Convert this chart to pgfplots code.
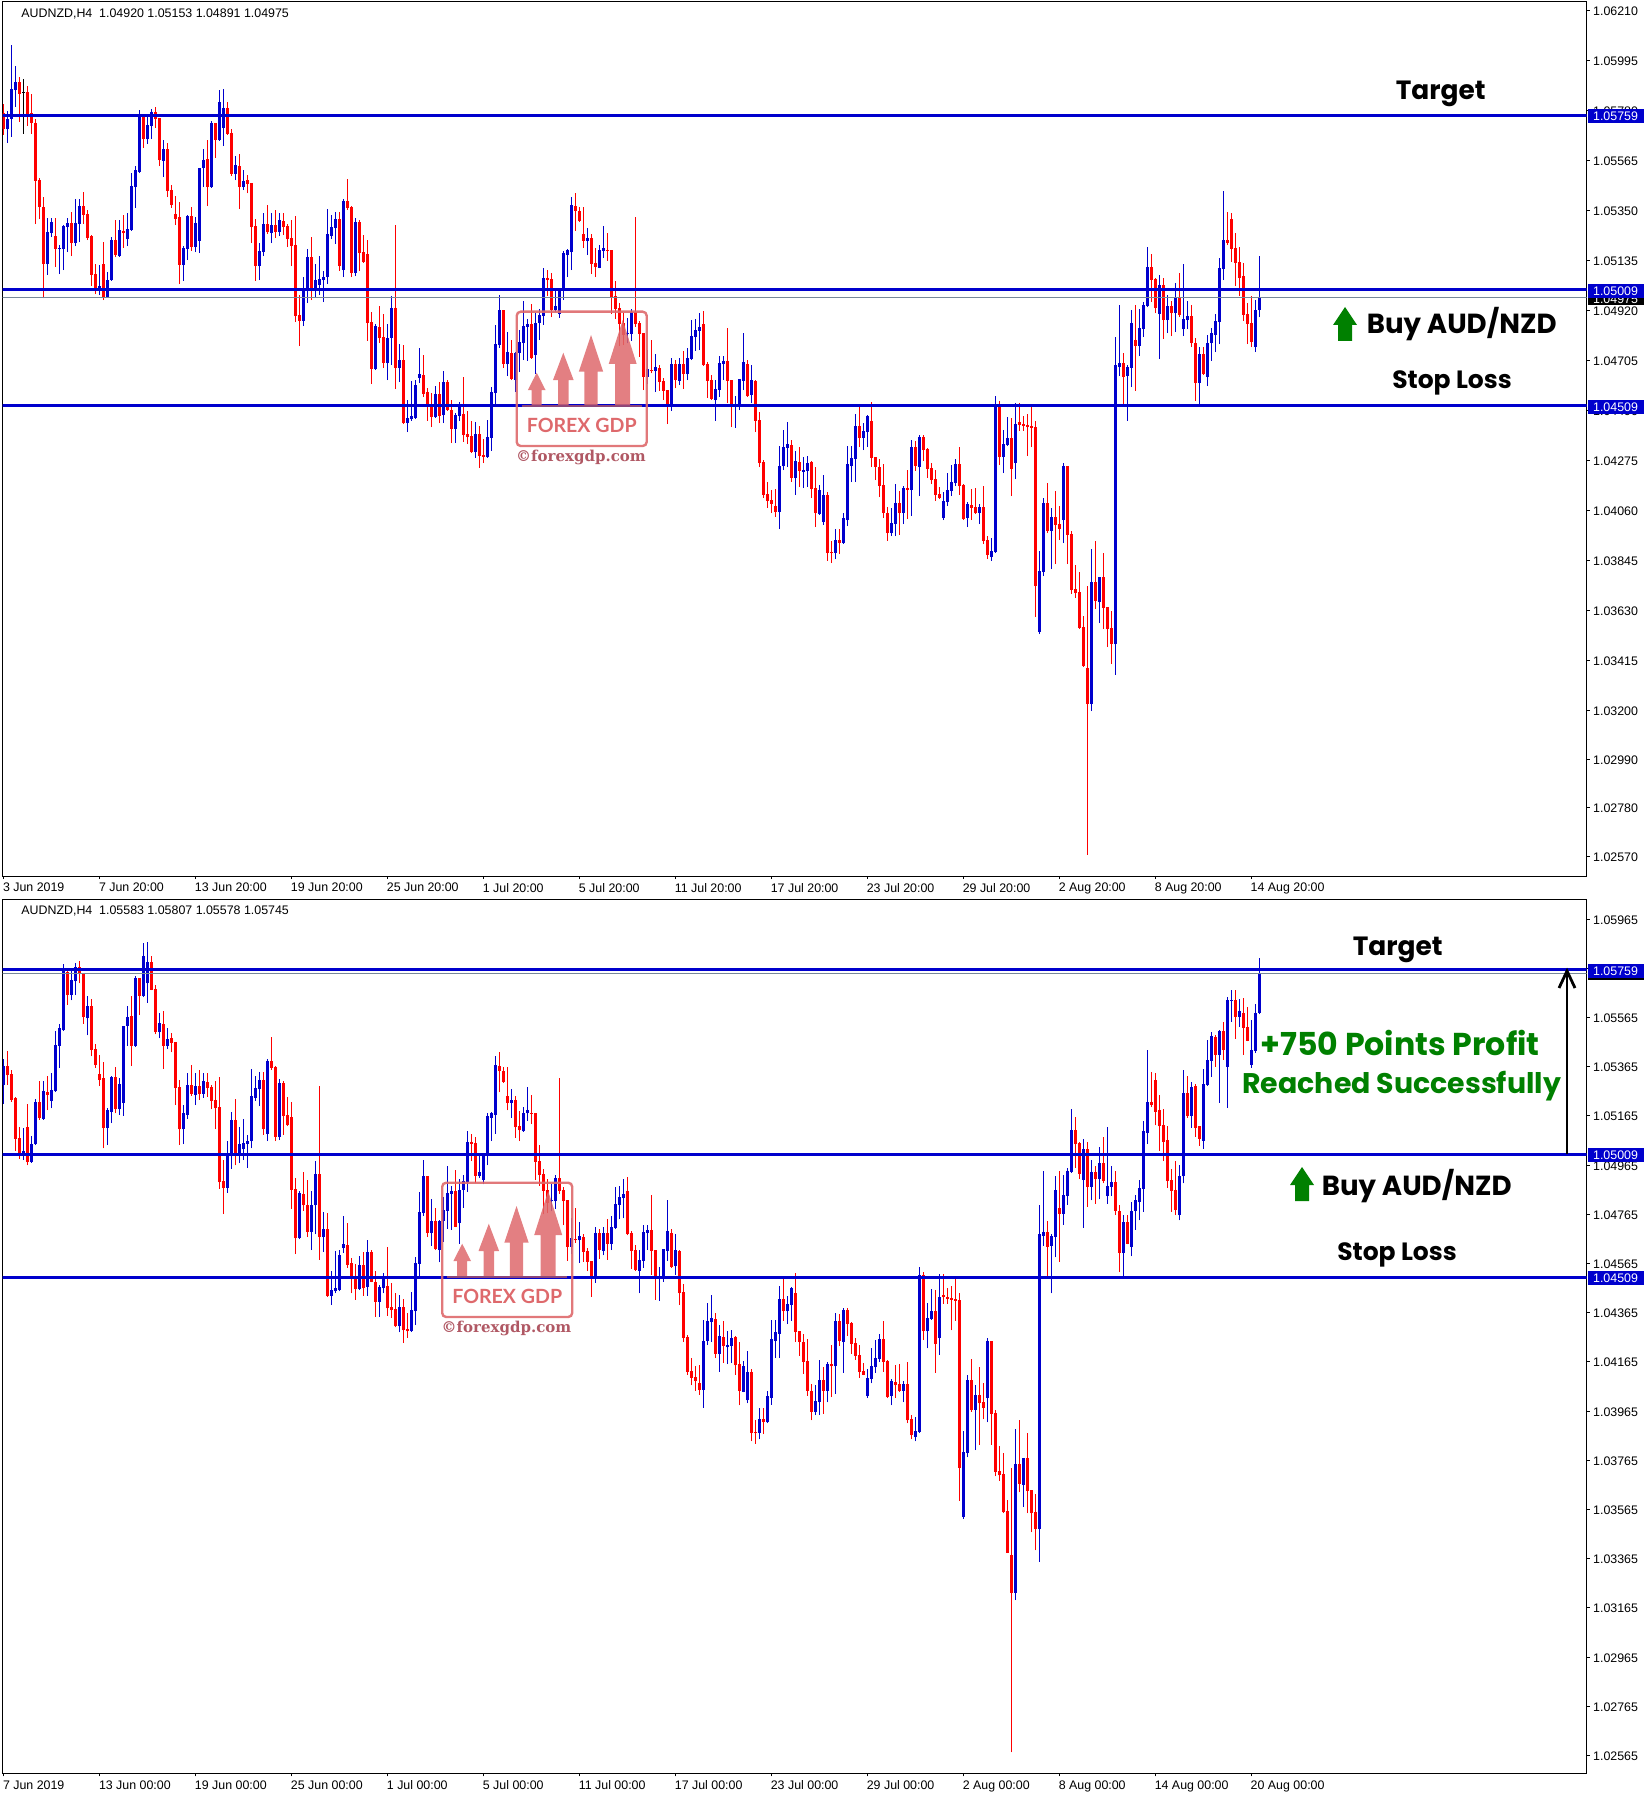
\documentclass[border=0pt]{standalone}
\usepackage{pgfplots}
\usepackage{pgfplotstable}
\pgfplotsset{compat=1.18}
\usepackage{fontspec}
\setmainfont{Liberation Sans}
\newfontfamily\annot{Poppins}[BoldFont=* Bold]
\newfontfamily\wmfont{Lato}
\newfontfamily\wmserif{DejaVu Serif}
\definecolor{cblue}{RGB}{0,0,205}
\definecolor{cred}{RGB}{255,0,0}
\definecolor{cgray}{RGB}{119,136,153}
\definecolor{cgreen}{RGB}{0,128,0}
\definecolor{wmc}{RGB}{222,105,108}
\definecolor{wmt}{RGB}{176,88,100}

\pgfplotstableread{
x l b t h
1 1.05641 1.05699 1.05742 1.05777
2 1.05666 1.05742 1.05871 1.06060
3 1.05795 1.05867 1.05901 1.05970
11 1.05072 1.05119 1.05256 1.05315
12 1.05235 1.05252 1.05299 1.05315
14 1.05076 1.05183 1.05188 1.05201
15 1.05093 1.05183 1.05282 1.05286
16 1.05170 1.05278 1.05295 1.05315
18 1.05196 1.05209 1.05295 1.05398
19 1.05213 1.05291 1.05368 1.05398
24 1.04985 1.05007 1.05024 1.05115
26 1.04974 1.04977 1.05050 1.05084
27 1.05046 1.05050 1.05222 1.05235
29 1.05150 1.05153 1.05265 1.05308
31 1.05196 1.05226 1.05269 1.05338
32 1.05262 1.05265 1.05454 1.05510
33 1.05360 1.05450 1.05523 1.05540
34 1.05510 1.05514 1.05758 1.05781
36 1.05635 1.05656 1.05717 1.05759
37 1.05656 1.05712 1.05772 1.05785
40 1.05493 1.05562 1.05613 1.05652
45 1.05046 1.05115 1.05188 1.05196
46 1.05136 1.05183 1.05325 1.05329
48 1.05170 1.05192 1.05295 1.05321
49 1.05166 1.05218 1.05532 1.05532
50 1.05450 1.05532 1.05566 1.05613
52 1.05447 1.05450 1.05725 1.05734
54 1.05648 1.05652 1.05815 1.05867
55 1.05626 1.05704 1.05790 1.05871
58 1.05480 1.05506 1.05544 1.05583
60 1.05437 1.05450 1.05476 1.05523
64 1.05050 1.05110 1.05175 1.05209
65 1.05153 1.05170 1.05291 1.05338
67 1.05209 1.05252 1.05286 1.05338
69 1.05239 1.05256 1.05308 1.05338
75 1.04852 1.04874 1.05007 1.05063
76 1.04951 1.05007 1.05149 1.05183
78 1.04973 1.05007 1.05050 1.05119
79 1.04985 1.05029 1.05054 1.05153
80 1.04955 1.05050 1.05063 1.05089
81 1.05033 1.05063 1.05248 1.05355
82 1.05226 1.05239 1.05278 1.05329
83 1.05205 1.05274 1.05312 1.05342
85 1.05063 1.05093 1.05390 1.05398
88 1.05067 1.05080 1.05299 1.05317
93 1.04663 1.04667 1.04852 1.04861
96 1.04620 1.04693 1.04801 1.04861
97 1.04684 1.04801 1.04930 1.04981
99 1.04611 1.04672 1.04706 1.04775
101 1.04396 1.04435 1.04457 1.04534
102 1.04444 1.04452 1.04465 1.04616
103 1.04452 1.04457 1.04598 1.04620
104 1.04607 1.04629 1.04646 1.04758
108 1.04457 1.04461 1.04560 1.04594
110 1.04435 1.04470 1.04611 1.04659
113 1.04349 1.04409 1.04470 1.04478
114 1.04444 1.04465 1.04504 1.04525
118 1.04285 1.04310 1.04388 1.04439
121 1.04286 1.04289 1.04375 1.04448
122 1.04315 1.04371 1.04568 1.04590
123 1.04508 1.04564 1.04775 1.04856
124 1.04758 1.04770 1.04921 1.04985
126 1.04637 1.04689 1.04740 1.04826
128 1.04570 1.04620 1.04736 1.04740
129 1.04654 1.04736 1.04783 1.04835
130 1.04706 1.04779 1.04852 1.04960
131 1.04702 1.04848 1.04861 1.04882
133 1.04646 1.04728 1.04865 1.04907
134 1.04792 1.04865 1.04899 1.04925
135 1.04857 1.04895 1.05059 1.05102
138 1.04912 1.04921 1.04938 1.05007
139 1.04887 1.04904 1.05007 1.05007
140 1.04964 1.05006 1.05166 1.05175
141 1.05063 1.05157 1.05179 1.05183
142 1.05093 1.05170 1.05372 1.05407
146 1.05157 1.05218 1.05231 1.05274
149 1.05100 1.05102 1.05179 1.05200
150 1.05145 1.05175 1.05188 1.05282
156 1.04778 1.04818 1.04822 1.04887
157 1.04788 1.04818 1.04912 1.04925
161 1.04603 1.04633 1.04667 1.04749
163 1.04568 1.04659 1.04676 1.04732
167 1.04487 1.04508 1.04689 1.04715
169 1.04598 1.04616 1.04689 1.04715
171 1.04620 1.04646 1.04715 1.04758
172 1.04706 1.04710 1.04809 1.04878
173 1.04745 1.04805 1.04835 1.04882
174 1.04749 1.04831 1.04848 1.04908
178 1.04444 1.04534 1.04581 1.04620
179 1.04548 1.04577 1.04693 1.04723
180 1.04620 1.04689 1.04702 1.04723
183 1.04414 1.04505 1.04511 1.04551
184 1.04491 1.04508 1.04624 1.04624
185 1.04577 1.04616 1.04697 1.04822
187 1.04520 1.04555 1.04620 1.04684
194 1.03979 1.04052 1.04250 1.04336
195 1.04233 1.04250 1.04332 1.04405
196 1.04246 1.04328 1.04345 1.04439
198 1.04126 1.04199 1.04272 1.04315
200 1.04156 1.04224 1.04233 1.04289
201 1.04160 1.04229 1.04263 1.04293
204 1.04041 1.04044 1.04147 1.04168
205 1.03997 1.04009 1.04126 1.04211
208 1.03850 1.03876 1.03932 1.03979
210 1.03916 1.03919 1.04027 1.04048
211 1.03992 1.04018 1.04259 1.04336
212 1.04181 1.04250 1.04285 1.04336
213 1.04181 1.04280 1.04422 1.04474
215 1.04319 1.04371 1.04401 1.04435
216 1.04332 1.04396 1.04465 1.04469
222 1.03949 1.03962 1.04005 1.04070
223 1.03949 1.04001 1.04091 1.04173
225 1.04001 1.04048 1.04156 1.04164
227 1.04035 1.04147 1.04332 1.04362
229 1.04121 1.04246 1.04375 1.04383
235 1.04018 1.04027 1.04100 1.04138
236 1.04078 1.04095 1.04147 1.04220
237 1.04121 1.04143 1.04181 1.04254
238 1.04164 1.04177 1.04259 1.04280
241 1.03988 1.04027 1.04087 1.04095
244 1.04001 1.04048 1.04074 1.04087
247 1.03842 1.03859 1.03885 1.03941
248 1.03877 1.03880 1.04517 1.04551
250 1.04220 1.04289 1.04345 1.04405
251 1.04336 1.04340 1.04371 1.04461
253 1.04194 1.04263 1.04431 1.04521
259 1.03528 1.03536 1.03799 1.03885
260 1.03777 1.03794 1.04091 1.04113
262 1.03807 1.03971 1.04031 1.04070
265 1.03919 1.04018 1.04250 1.04263
272 1.03197 1.03227 1.03751 1.03893
274 1.03575 1.03665 1.03773 1.03773
278 1.03352 1.03485 1.04685 1.04805
279 1.04637 1.04676 1.04693 1.04942
281 1.04444 1.04637 1.04676 1.04685
282 1.04590 1.04672 1.04865 1.04921
284 1.04723 1.04766 1.04844 1.04925
285 1.04805 1.04839 1.04942 1.04955
286 1.04934 1.04938 1.05106 1.05192
289 1.04710 1.04904 1.05029 1.05071
291 1.04822 1.04878 1.04938 1.04985
293 1.04826 1.04908 1.04973 1.05037
295 1.04809 1.04839 1.04882 1.05119
296 1.04839 1.04878 1.04895 1.04960
299 1.04508 1.04607 1.04732 1.04762
301 1.04594 1.04633 1.04779 1.04814
302 1.04702 1.04779 1.04822 1.04844
303 1.04740 1.04814 1.04874 1.04904
304 1.04775 1.04869 1.05102 1.05145
305 1.05050 1.05097 1.05222 1.05433
313 1.04740 1.04762 1.04921 1.04964
}\upA

\pgfplotstableread{
x l b t h
0 1.05674 1.05698 1.05767 1.05807
4 1.05731 1.05850 1.05901 1.05921
6 1.05712 1.05755 1.05858 1.05884
7 1.05678 1.05725 1.05767 1.05850
8 1.05291 1.05476 1.05725 1.05742
9 1.05312 1.05364 1.05480 1.05487
10 1.04971 1.05119 1.05364 1.05407
13 1.05106 1.05183 1.05239 1.05315
17 1.05153 1.05209 1.05295 1.05342
20 1.05291 1.05330 1.05368 1.05428
21 1.05222 1.05231 1.05334 1.05351
22 1.05024 1.05072 1.05239 1.05243
23 1.04990 1.05007 1.05076 1.05119
25 1.04964 1.04977 1.05119 1.05213
28 1.05149 1.05158 1.05222 1.05308
30 1.05188 1.05252 1.05261 1.05329
35 1.05618 1.05656 1.05751 1.05759
38 1.05704 1.05742 1.05772 1.05794
39 1.05540 1.05566 1.05747 1.05747
41 1.05407 1.05433 1.05613 1.05639
42 1.05360 1.05372 1.05437 1.05459
43 1.05286 1.05312 1.05334 1.05411
44 1.05033 1.05115 1.05321 1.05385
47 1.05175 1.05192 1.05325 1.05364
51 1.05368 1.05450 1.05570 1.05652
53 1.05575 1.05652 1.05725 1.05725
56 1.05675 1.05678 1.05790 1.05815
57 1.05497 1.05506 1.05682 1.05699
59 1.05355 1.05450 1.05540 1.05592
61 1.05423 1.05463 1.05480 1.05501
62 1.05209 1.05278 1.05467 1.05467
63 1.05046 1.05110 1.05282 1.05312
66 1.05248 1.05256 1.05291 1.05372
68 1.05231 1.05256 1.05286 1.05351
70 1.05243 1.05278 1.05304 1.05338
71 1.05192 1.05226 1.05282 1.05291
72 1.05110 1.05196 1.05231 1.05308
73 1.04869 1.04895 1.05200 1.05325
74 1.04766 1.04874 1.04899 1.04985
77 1.04964 1.05007 1.05149 1.05235
84 1.05089 1.05110 1.05312 1.05342
86 1.05351 1.05360 1.05390 1.05484
87 1.05063 1.05080 1.05364 1.05368
89 1.05089 1.05166 1.05299 1.05308
90 1.05124 1.05127 1.05170 1.05243
91 1.04788 1.04865 1.05162 1.05222
92 1.04603 1.04667 1.04869 1.04912
94 1.04779 1.04801 1.04848 1.04938
95 1.04672 1.04693 1.04805 1.04904
98 1.04581 1.04672 1.04930 1.05287
100 1.04431 1.04435 1.04706 1.04770
105 1.04547 1.04560 1.04642 1.04728
106 1.04444 1.04504 1.04568 1.04586
107 1.04418 1.04461 1.04508 1.04564
109 1.04435 1.04465 1.04560 1.04611
111 1.04488 1.04491 1.04611 1.04620
112 1.04349 1.04409 1.04491 1.04534
115 1.04353 1.04383 1.04474 1.04633
116 1.04345 1.04375 1.04388 1.04487
117 1.04306 1.04310 1.04379 1.04444
119 1.04242 1.04293 1.04388 1.04422
120 1.04263 1.04289 1.04297 1.04366
125 1.04672 1.04689 1.04921 1.04921
127 1.04620 1.04624 1.04736 1.04792
132 1.04712 1.04715 1.04861 1.04947
136 1.04981 1.05050 1.05059 1.05093
137 1.04891 1.04921 1.05054 1.05080
143 1.05261 1.05347 1.05368 1.05424
144 1.05299 1.05304 1.05347 1.05364
145 1.05188 1.05218 1.05248 1.05364
147 1.05076 1.05119 1.05231 1.05248
148 1.05063 1.05106 1.05123 1.05186
151 1.05132 1.05175 1.05179 1.05251
152 1.04904 1.04977 1.05179 1.05179
153 1.04882 1.04925 1.04981 1.05046
154 1.04766 1.04861 1.04930 1.04950
155 1.04770 1.04813 1.04865 1.04907
158 1.04849 1.04861 1.04912 1.05321
159 1.04720 1.04818 1.04865 1.04875
160 1.04577 1.04633 1.04822 1.04822
162 1.04649 1.04659 1.04663 1.04792
164 1.04573 1.04611 1.04672 1.04684
165 1.04534 1.04573 1.04616 1.04627
166 1.04431 1.04508 1.04577 1.04577
168 1.04584 1.04620 1.04689 1.04706
170 1.04581 1.04646 1.04689 1.04745
175 1.04680 1.04684 1.04861 1.04917
176 1.04543 1.04616 1.04689 1.04697
177 1.04534 1.04538 1.04620 1.04642
181 1.04520 1.04616 1.04702 1.04844
182 1.04418 1.04508 1.04620 1.04620
186 1.04548 1.04551 1.04689 1.04706
188 1.04396 1.04444 1.04616 1.04620
189 1.04246 1.04263 1.04448 1.04482
190 1.04113 1.04126 1.04267 1.04276
191 1.04070 1.04100 1.04130 1.04181
192 1.04048 1.04087 1.04104 1.04147
193 1.04031 1.04052 1.04078 1.04151
197 1.04181 1.04199 1.04340 1.04362
199 1.04160 1.04229 1.04267 1.04332
202 1.04113 1.04151 1.04267 1.04272
203 1.03988 1.04048 1.04156 1.04246
206 1.03842 1.03876 1.04126 1.04138
207 1.03833 1.03876 1.03880 1.03928
209 1.03872 1.03919 1.03932 1.03979
214 1.04332 1.04371 1.04422 1.04505
217 1.04246 1.04285 1.04444 1.04525
218 1.04190 1.04246 1.04289 1.04289
219 1.04117 1.04164 1.04246 1.04280
220 1.04027 1.04048 1.04168 1.04259
221 1.03928 1.03962 1.04048 1.04074
224 1.03954 1.04048 1.04091 1.04143
226 1.04022 1.04147 1.04156 1.04233
228 1.04229 1.04250 1.04332 1.04358
230 1.04272 1.04319 1.04375 1.04383
231 1.04199 1.04237 1.04323 1.04328
232 1.04173 1.04190 1.04242 1.04263
233 1.04100 1.04126 1.04194 1.04233
234 1.04110 1.04113 1.04130 1.04160
239 1.04126 1.04164 1.04259 1.04332
240 1.04018 1.04022 1.04168 1.04173
242 1.04018 1.04070 1.04082 1.04151
243 1.04044 1.04048 1.04074 1.04156
245 1.03915 1.03928 1.04074 1.04164
246 1.03850 1.03867 1.03932 1.03949
249 1.04254 1.04289 1.04517 1.04530
252 1.04121 1.04237 1.04371 1.04457
254 1.04401 1.04427 1.04439 1.04521
255 1.04401 1.04422 1.04431 1.04465
256 1.04293 1.04418 1.04427 1.04474
257 1.04332 1.04414 1.04422 1.04505
258 1.03601 1.03734 1.04418 1.04444
261 1.03962 1.03971 1.04091 1.04177
263 1.03829 1.03997 1.04031 1.04143
264 1.03932 1.03979 1.04001 1.04078
266 1.03829 1.03954 1.04250 1.04250
267 1.03700 1.03717 1.03958 1.03971
268 1.03683 1.03704 1.03721 1.03825
269 1.03549 1.03554 1.03708 1.03794
270 1.03388 1.03390 1.03558 1.03605
271 1.02578 1.03227 1.03382 1.03734
273 1.03635 1.03670 1.03751 1.03928
275 1.03549 1.03640 1.03773 1.03876
276 1.03472 1.03549 1.03644 1.03644
277 1.03399 1.03485 1.03554 1.03627
280 1.04513 1.04633 1.04693 1.04736
283 1.04573 1.04766 1.04792 1.04942
287 1.04955 1.05050 1.05106 1.05162
288 1.04908 1.04930 1.05054 1.05059
290 1.04796 1.04878 1.05029 1.05059
292 1.04809 1.04908 1.04938 1.04960
294 1.04891 1.04900 1.04973 1.05080
297 1.04762 1.04779 1.04895 1.04942
298 1.04530 1.04607 1.04779 1.04801
300 1.04643 1.04646 1.04732 1.04762
306 1.05200 1.05209 1.05222 1.05342
307 1.05127 1.05183 1.05312 1.05338
308 1.05024 1.05123 1.05188 1.05252
309 1.04981 1.05059 1.05127 1.05192
310 1.04874 1.04900 1.05067 1.05123
311 1.04775 1.04861 1.04904 1.04951
312 1.04762 1.04783 1.04865 1.04981
}\downA

\pgfplotstableread{
x l b t h
5 1.05678 1.05856 1.05858 1.05913
}\dojiTop

\pgfplotstableread{
x l b t h
314 1.04891 1.04920 1.04975 1.05153
}\lastTop

\pgfplotstableread{
x l b t h
314 1.04891 1.04919 1.05257 1.05352
316 1.05116 1.05165 1.05283 1.05303
319 1.05031 1.05064 1.05295 1.05356
320 1.05287 1.05291 1.05393 1.05474
321 1.05324 1.05389 1.05490 1.05507
323 1.05218 1.05413 1.05511 1.05515
325 1.05198 1.05364 1.05637 1.05649
326 1.05547 1.05633 1.05637 1.05677
328 1.05527 1.05568 1.05592 1.05641
331 1.05360 1.05373 1.05434 1.05555
332 1.05420 1.05429 1.05584 1.05620
333 1.05578 1.05583 1.05745 1.05807
}\upB

\pgfplotstableread{
x l b t h
315 1.05157 1.05165 1.05259 1.05328
317 1.05080 1.05116 1.05287 1.05295
318 1.05043 1.05072 1.05125 1.05125
322 1.05364 1.05413 1.05486 1.05494
324 1.05393 1.05434 1.05511 1.05547
327 1.05478 1.05568 1.05637 1.05677
329 1.05413 1.05523 1.05584 1.05645
330 1.05468 1.05470 1.05527 1.05608
}\downB

\newcommand{\Candles}[3]{%
\addplot[draw=none,forget plot,error bars/.cd,y dir=plus,y explicit,error mark=none,
  error bar style={draw=#2,solid,line width=0.5pt}]
  table[x expr=\thisrow{x}-#3,y=l,y error plus expr=\thisrow{h}-\thisrow{l}] {#1};
\addplot[draw=none,forget plot,error bars/.cd,y dir=plus,y explicit,error mark=none,
  error bar style={draw=#2,solid,line width=1.5pt}]
  table[x expr=\thisrow{x}-#3,y=b,y error plus expr=\thisrow{t}-\thisrow{b}] {#1};
}
\newcommand{\Level}[3]{%
\addplot[forget plot,#2,line width=#3] coordinates {(-5,#1) (400,#1)};
}
\pgfplotsset{mt/.style={
  scale only axis, width=792pt, height=437pt,
  xmin=-0.2575, xmax=395.84,
  axis line style={black,line width=0.5pt},
  tick style={black,line width=0.5pt},
  tick align=outside, major tick length=1.5pt,
  xtick pos=bottom, ytick pos=right, yticklabel pos=right,
  xtick={0,24,...,312},
  x tick label style={font=\fontsize{6.2}{7}\selectfont,anchor=north west,inner xsep=0pt,inner ysep=0pt,xshift=-0.5pt,yshift=-1.9pt},
  y tick label style={font=\fontsize{6.2}{7}\selectfont,anchor=west,inner xsep=0pt,inner ysep=0pt,xshift=1.6pt,yshift=-0.35pt},
  scaled y ticks=false,
}}

\newcommand{\LabelBox}[4]{% y px, fill, text
\fill[#2] (1588,#1-7) rectangle (1644,#1+7);
\node[anchor=west,inner sep=0pt,text=white,font=\fontsize{6.2}{7}\selectfont] at (1592.7,#1+0.6) {#3};
}
\newcommand{\GreenUp}[3]{% x, tip y, bottom y
\fill[cgreen] (#1,#2) -- (#1+12,#2+18) -- (#1+7,#2+18) -- (#1+7,#3) -- (#1-7,#3) -- (#1-7,#2+18) -- (#1-12,#2+18) -- cycle;
}
\newcommand{\Watermark}[2]{%
\begin{scope}[shift={(#1,#2)}]
\draw[wmc,line width=1.2pt,rounded corners=2pt,opacity=.9] (516.7,311.7) rectangle (646.7,446);
\begin{scope}[opacity=.85]
\fill[wmc] (536.7,372.7) -- (545.5,390) -- (541.7,390) -- (541.7,405) -- (531.7,405) -- (531.7,390) -- (527.9,390) -- cycle;
\fill[wmc] (563.3,352.7) -- (573.6,380) -- (568.6,380) -- (568.6,405) -- (558,405) -- (558,380) -- (553,380) -- cycle;
\fill[wmc] (591,335) -- (603.2,371.7) -- (597.7,371.7) -- (597.7,405) -- (584.3,405) -- (584.3,371.7) -- (578.8,371.7) -- cycle;
\fill[wmc] (622.7,320) -- (636.7,364) -- (630.2,364) -- (630.2,405) -- (615.2,405) -- (615.2,364) -- (608.7,364) -- cycle;
\end{scope}
\draw[wmt,line width=1pt,opacity=.8] (521.7,406.3) -- (641.7,406.3);
\node[text=wmc,font=\wmfont\bfseries\fontsize{9.8}{11}\selectfont] at (581.7,425) {FOREX GDP};
\node[text=wmt,font=\wmserif\bfseries\fontsize{7.5}{8}\selectfont] at (581,457.5) {©forexgdp.com};
\end{scope}
}

\begin{document}
\begin{tikzpicture}
\useasboundingbox (0,0) rectangle (825pt,-898.5pt);

\begin{axis}[mt, at={(1.3pt,-438pt)}, anchor=south west,
  ymin=1.024875, ymax=1.062457,
  ytick={1.06210,1.05995,1.05780,1.05565,1.05350,1.05135,1.04920,1.04705,1.04490,1.04275,1.04060,1.03845,1.03630,1.03415,1.03200,1.02990,1.02780,1.02570},
  yticklabels={1.06210,1.05995,1.05780,1.05565,1.05350,1.05135,1.04920,1.04705,1.04490,1.04275,1.04060,1.03845,1.03630,1.03415,1.03200,1.02990,1.02780,1.02570},
  xticklabels={3 Jun 2019,7 Jun 20:00,13 Jun 20:00,19 Jun 20:00,25 Jun 20:00,1 Jul 20:00,5 Jul 20:00,11 Jul 20:00,17 Jul 20:00,23 Jul 20:00,29 Jul 20:00,2 Aug 20:00,8 Aug 20:00,14 Aug 20:00},
]
\Candles{\upA}{cblue}{0}
\Candles{\downA}{cred}{0}
\Candles{\dojiTop}{black}{0}
\Candles{\lastTop}{cblue}{0}
\Level{1.04975}{cgray}{0.5pt}
\Level{1.05759}{cblue}{1.5pt}
\Level{1.05009}{cblue}{1.5pt}
\Level{1.04509}{cblue}{1.5pt}
\end{axis}

\begin{axis}[mt, at={(1.3pt,-886.65pt)}, anchor=south west,
  ymin=1.024928, ymax=1.060456,
  ytick={1.05965,1.05765,1.05565,1.05365,1.05165,1.04965,1.04765,1.04565,1.04365,1.04165,1.03965,1.03765,1.03565,1.03365,1.03165,1.02965,1.02765,1.02565},
  yticklabels={1.05965,1.05765,1.05565,1.05365,1.05165,1.04965,1.04765,1.04565,1.04365,1.04165,1.03965,1.03765,1.03565,1.03365,1.03165,1.02965,1.02765,1.02565},
  xticklabels={7 Jun 2019,13 Jun 00:00,19 Jun 00:00,25 Jun 00:00,1 Jul 00:00,5 Jul 00:00,11 Jul 00:00,17 Jul 00:00,23 Jul 00:00,29 Jul 00:00,2 Aug 00:00,8 Aug 00:00,14 Aug 00:00,20 Aug 00:00},
]
\Candles{\upA}{cblue}{19}
\Candles{\downA}{cred}{19}
\Candles{\upB}{cblue}{19}
\Candles{\downB}{cred}{19}
\Level{1.05745}{cgray}{0.5pt}
\Level{1.05759}{cblue}{1.4pt}
\Level{1.05009}{cblue}{1.4pt}
\Level{1.04509}{cblue}{1.4pt}
\end{axis}

\begin{scope}[x=0.5pt,y=-0.5pt]
% price labels
\LabelBox{298.3}{black}{1.04975}{}
\LabelBox{116}{cblue}{1.05759}{}
\LabelBox{291}{cblue}{1.05009}{}
\LabelBox{407}{cblue}{1.04509}{}
\LabelBox{973}{black}{1.05745}{}
\LabelBox{971}{cblue}{1.05759}{}
\LabelBox{1155}{cblue}{1.05009}{}
\LabelBox{1278}{cblue}{1.04509}{}
% chart headers
\node[anchor=west,inner sep=0pt,font=\fontsize{6.2}{7}\selectfont] at (21,14) {AUDNZD,H4\ \ 1.04920 1.05153 1.04891 1.04975};
\node[anchor=west,inner sep=0pt,font=\fontsize{6.2}{7}\selectfont] at (21,911) {AUDNZD,H4\ \ 1.05583 1.05807 1.05578 1.05745};
% watermark
\Watermark{0}{0}
\Watermark{-74.5}{871}
% annotations
\node[font=\annot\bfseries\fontsize{13.2}{15}\selectfont] at (1440.7,93.5) {Target};
\node[font=\annot\bfseries\fontsize{13.8}{15}\selectfont] at (1461.7,324) {Buy AUD/NZD};
\node[font=\annot\bfseries\fontsize{12.5}{15}\selectfont] at (1452,382.5) {Stop Loss};
\GreenUp{1345}{307}{341}
\node[font=\annot\bfseries\fontsize{13.2}{15}\selectfont] at (1397.7,949.5) {Target};
\node[font=\annot\bfseries\fontsize{13.8}{15}\selectfont] at (1416.7,1186.5) {Buy AUD/NZD};
\node[font=\annot\bfseries\fontsize{12.5}{15}\selectfont] at (1397,1254.5) {Stop Loss};
\GreenUp{1302}{1167}{1201}
\node[text=cgreen,font=\annot\bfseries\fontsize{15.8}{17}\selectfont] at (1400,1043) {+750 Points Profit};
\node[text=cgreen,font=\annot\bfseries\fontsize{14.2}{16}\selectfont] at (1401.7,1086.5) {Reached Successfully};
\draw[black,line width=1.4pt] (1567,1154) -- (1567,971);
\draw[black,line width=1.4pt] (1559,988) -- (1567,971) -- (1575,988);
\end{scope}
\end{tikzpicture}
\end{document}
